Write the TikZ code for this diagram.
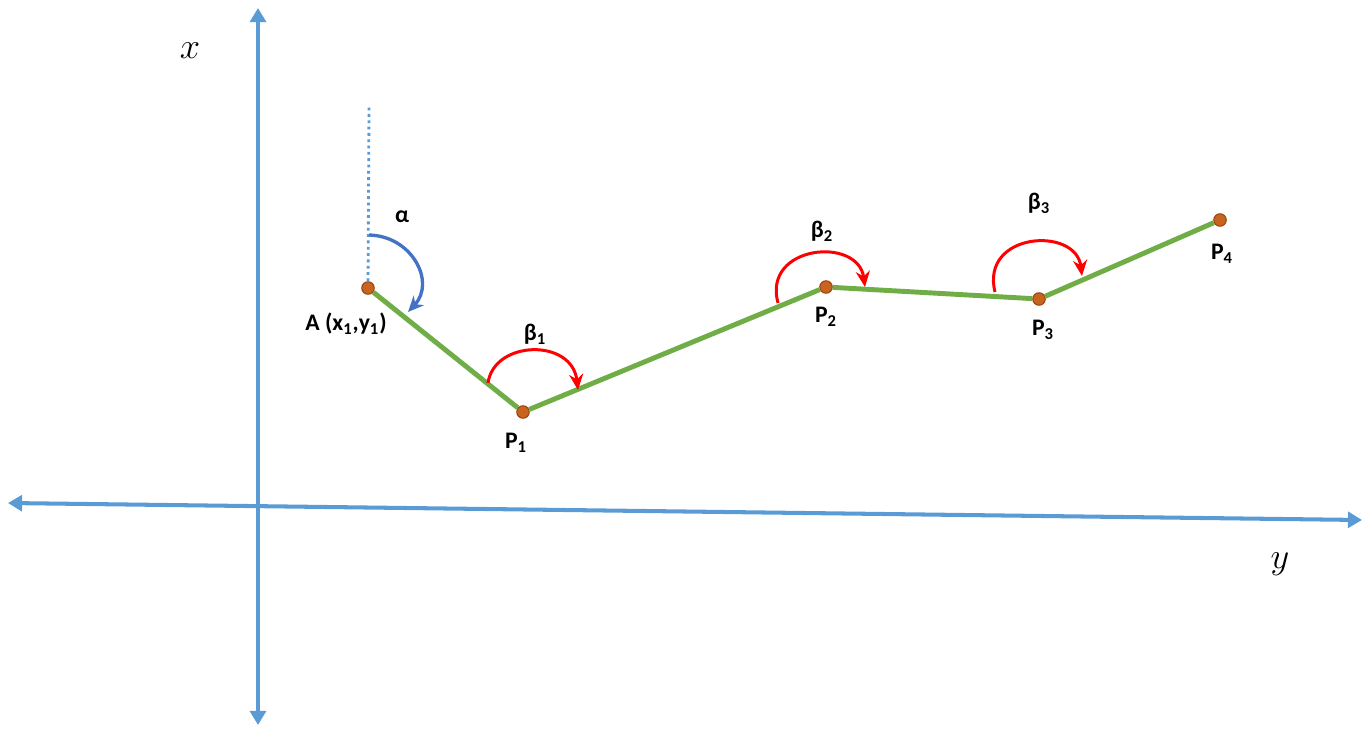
\documentclass[tikz,border=0pt]{standalone}
\usepackage{fontspec}
\setmainfont{Carlito}
\usetikzlibrary{arrows.meta}
\definecolor{axisblue}{RGB}{91,155,213}
\definecolor{arcblue}{RGB}{68,114,196}
\definecolor{pathgreen}{RGB}{112,173,71}
\definecolor{dotorange}{RGB}{200,100,30}
\definecolor{dotedge}{RGB}{150,70,20}
\begin{document}
\begin{tikzpicture}[
    x=0.02cm, y=-0.02cm,
    axis/.style={draw=axisblue, line width=2.3pt, {Triangle[width=9pt,length=8pt]}-{Triangle[width=9pt,length=8pt]}},
    route/.style={draw=pathgreen, line width=2.8pt},
    pt/.style={circle, fill=dotorange, draw=dotedge, line width=0.6pt, minimum size=0.25cm, inner sep=0pt},
    lbl/.style={font=\fontsize{13.5}{15}\selectfont\bfseries, inner sep=0pt},
    turn/.style={draw=red, line width=1.7pt, -{Stealth[length=9pt,width=8pt]}},
    >=stealth
]
    \useasboundingbox (0,0) rectangle (1364,730);

    % Axes
    \coordinate (xbot)   at (258,725);
    \coordinate (xtop)   at (258,8);
    \coordinate (yleft)  at (8,503);
    \coordinate (yright) at (1362,520);
    \draw[axis] (xbot) -- (xtop);
    \draw[axis] (yleft) -- (yright);
    \node[font=\fontsize{20}{24}\selectfont] (xlab) at (190,51) {$x$};
    \node[font=\fontsize{20}{24}\selectfont] (ylab) at (1280,564) {$y$};

    % Points
    \node[pt] (A)  at (368,288)  {};
    \node[pt] (P1) at (523,412)  {};
    \node[pt] (P2) at (826,287)  {};
    \node[pt] (P3) at (1039,299) {};
    \node[pt] (P4) at (1220,220) {};

    % Reference line at A
    \coordinate (ref) at (369,107);
    \draw[axisblue, line width=1.6pt, dotted] (A) -- (ref);

    % Path
    \draw[route] (A) -- (P1) -- (P2) -- (P3) -- (P4);

    % Labels
    \node[lbl] (Alab)  at (346,324)  {A (x\textsubscript{1},y\textsubscript{1})};
    \node[lbl] (P1lab) at (516,443)  {P\textsubscript{1}};
    \node[lbl] (P2lab) at (826,317)  {P\textsubscript{2}};
    \node[lbl] (P3lab) at (1043,330) {P\textsubscript{3}};
    \node[lbl] (P4lab) at (1222,254) {P\textsubscript{4}};

    % Angles
    \draw[draw=arcblue, line width=1.9pt, -{Stealth[length=9pt,width=8pt]}]
        (369,235) .. controls (412,236) and (436,282) .. (408,312);
    \draw[turn] (488,383) .. controls (494,340) and (572,338) .. (578,390);
    \draw[turn] (778,303) .. controls (762,245) and (858,236) .. (865,287);
    \draw[turn] (995,292) .. controls (980,232) and (1076,226) .. (1082,276);

    \node[lbl] (alpha) at (402,217)  {α};
    \node[lbl] (beta1) at (535,334)  {β\textsubscript{1}};
    \node[lbl] (beta2) at (822,231)  {β\textsubscript{2}};
    \node[lbl] (beta3) at (1039,203) {β\textsubscript{3}};
\end{tikzpicture}
\end{document}
